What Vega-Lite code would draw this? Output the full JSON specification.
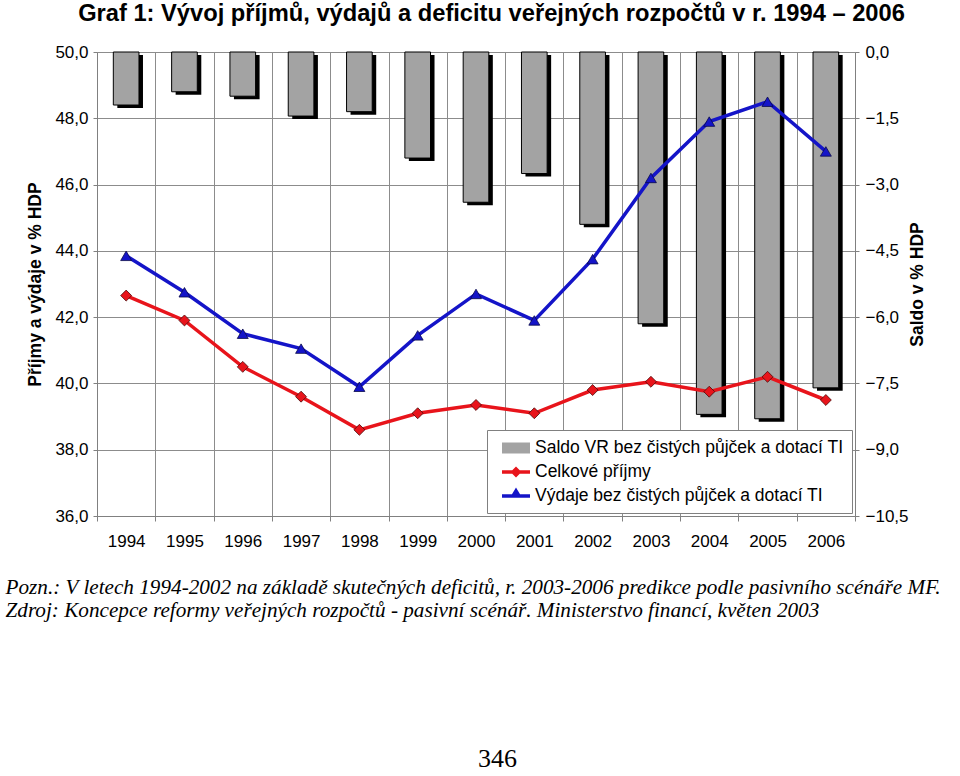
{
  "$schema": "https://vega.github.io/schema/vega-lite/v6.json",
  "autosize": "none",
  "width": 758,
  "height": 464,
  "padding": {"left": 97, "top": 52, "right": 105, "bottom": 260},
  "background": "white",
  "config": {
    "view": {"stroke": null},
    "font": "Liberation Sans",
    "axis": {"labelFont": "Liberation Sans", "labelFontSize": 17, "labelColor": "black", "titleFont": "Liberation Sans", "titleColor": "black", "domainColor": "#808080", "tickColor": "#808080", "gridColor": "#8c8c8c", "gridOpacity": 1},
    "legend": {"orient": "bottom-right", "offset": 3, "fillColor": "white", "strokeColor": "#808080", "padding": 8,
      "labelFont": "Liberation Sans", "labelFontSize": 17.5, "labelColor": "black", "labelLimit": 400, "labelOffset": 9,
      "symbolSize": 400, "symbolOffset": 11, "rowPadding": 5, "symbolStrokeWidth": 0, "symbolOpacity": 1}
  },
  "title": {"text": "346", "orient": "bottom", "anchor": "start", "dx": 473, "offset": 126, "font": "Liberation Serif", "fontSize": 26, "fontWeight": "normal", "color": "black"},
  "data": {"values": [
    {"rok": "1994", "rada": "Saldo VR bez čistých půjček a dotací TI", "hodnota": -1.2},
    {"rok": "1995", "rada": "Saldo VR bez čistých půjček a dotací TI", "hodnota": -0.9},
    {"rok": "1996", "rada": "Saldo VR bez čistých půjček a dotací TI", "hodnota": -1.0},
    {"rok": "1997", "rada": "Saldo VR bez čistých půjček a dotací TI", "hodnota": -1.45},
    {"rok": "1998", "rada": "Saldo VR bez čistých půjček a dotací TI", "hodnota": -1.35},
    {"rok": "1999", "rada": "Saldo VR bez čistých půjček a dotací TI", "hodnota": -2.4},
    {"rok": "2000", "rada": "Saldo VR bez čistých půjček a dotací TI", "hodnota": -3.4},
    {"rok": "2001", "rada": "Saldo VR bez čistých půjček a dotací TI", "hodnota": -2.75},
    {"rok": "2002", "rada": "Saldo VR bez čistých půjček a dotací TI", "hodnota": -3.9},
    {"rok": "2003", "rada": "Saldo VR bez čistých půjček a dotací TI", "hodnota": -6.15},
    {"rok": "2004", "rada": "Saldo VR bez čistých půjček a dotací TI", "hodnota": -8.2},
    {"rok": "2005", "rada": "Saldo VR bez čistých půjček a dotací TI", "hodnota": -8.3},
    {"rok": "2006", "rada": "Saldo VR bez čistých půjček a dotací TI", "hodnota": -7.6},
    {"rok": "1994", "rada": "Celkové příjmy", "hodnota": 42.65},
    {"rok": "1995", "rada": "Celkové příjmy", "hodnota": 41.9},
    {"rok": "1996", "rada": "Celkové příjmy", "hodnota": 40.5},
    {"rok": "1997", "rada": "Celkové příjmy", "hodnota": 39.6},
    {"rok": "1998", "rada": "Celkové příjmy", "hodnota": 38.6},
    {"rok": "1999", "rada": "Celkové příjmy", "hodnota": 39.1},
    {"rok": "2000", "rada": "Celkové příjmy", "hodnota": 39.35},
    {"rok": "2001", "rada": "Celkové příjmy", "hodnota": 39.1},
    {"rok": "2002", "rada": "Celkové příjmy", "hodnota": 39.8},
    {"rok": "2003", "rada": "Celkové příjmy", "hodnota": 40.05},
    {"rok": "2004", "rada": "Celkové příjmy", "hodnota": 39.75},
    {"rok": "2005", "rada": "Celkové příjmy", "hodnota": 40.2},
    {"rok": "2006", "rada": "Celkové příjmy", "hodnota": 39.5},
    {"rok": "1994", "rada": "Výdaje bez čistých půjček a dotací TI", "hodnota": 43.85},
    {"rok": "1995", "rada": "Výdaje bez čistých půjček a dotací TI", "hodnota": 42.75},
    {"rok": "1996", "rada": "Výdaje bez čistých půjček a dotací TI", "hodnota": 41.5},
    {"rok": "1997", "rada": "Výdaje bez čistých půjček a dotací TI", "hodnota": 41.05},
    {"rok": "1998", "rada": "Výdaje bez čistých půjček a dotací TI", "hodnota": 39.9},
    {"rok": "1999", "rada": "Výdaje bez čistých půjček a dotací TI", "hodnota": 41.45},
    {"rok": "2000", "rada": "Výdaje bez čistých půjček a dotací TI", "hodnota": 42.7},
    {"rok": "2001", "rada": "Výdaje bez čistých půjček a dotací TI", "hodnota": 41.9},
    {"rok": "2002", "rada": "Výdaje bez čistých půjček a dotací TI", "hodnota": 43.75},
    {"rok": "2003", "rada": "Výdaje bez čistých půjček a dotací TI", "hodnota": 46.2},
    {"rok": "2004", "rada": "Výdaje bez čistých půjček a dotací TI", "hodnota": 47.9},
    {"rok": "2005", "rada": "Výdaje bez čistých půjček a dotací TI", "hodnota": 48.5},
    {"rok": "2006", "rada": "Výdaje bez čistých půjček a dotací TI", "hodnota": 47.0}
  ]},
  "resolve": {"scale": {"y": "independent"}, "axis": {"x": "independent", "y": "independent"}},
  "layer": [
    {
      "transform": [{"filter": "datum.rada == 'Saldo VR bez čistých půjček a dotací TI'"}],
      "encoding": {
        "x": {"field": "rok", "type": "ordinal", "scale": {"paddingInner": 0, "paddingOuter": 0},
          "axis": {"orient": "bottom", "tickBand": "extent", "grid": true, "tickSize": 5, "labelPadding": 12, "labelAngle": 0,
            "title": ["Pozn.: V letech 1994-2002 na základě skutečných deficitů, r. 2003-2006 predikce podle pasivního scénáře MF.", "Zdroj: Koncepce reformy veřejných rozpočtů - pasivní scénář. Ministerstvo financí, květen 2003"],
            "titleFont": "Liberation Serif", "titleFontStyle": "italic", "titleFontWeight": "normal", "titleFontSize": 21.2, "titleLineHeight": 23,
            "titleAnchor": "start", "titleAlign": "left", "titleBaseline": "top", "titleX": -92, "titleY": 60}},
        "y": {"field": "hodnota", "type": "quantitative", "scale": {"domain": [-10.5, 0], "nice": false, "zero": false},
          "axis": {"orient": "right", "values": [0, -1.5, -3, -4.5, -6, -7.5, -9, -10.5], "grid": false, "tickSize": 4,
            "labelExpr": "replace(format(datum.value, '.1f'), '.', ',')", "labelPadding": 6,
            "title": "Saldo v % HDP", "titleFontSize": 17.5, "titleFontWeight": "bold", "titleAngle": 270, "titlePadding": 18}}
      },
      "layer": [
        {"mark": {"type": "bar", "width": {"band": 0.44}, "color": "black", "xOffset": 4, "yOffset": 3}},
        {"mark": {"type": "bar", "width": {"band": 0.44}, "stroke": "black", "strokeWidth": 1},
          "encoding": {"color": {"field": "rada", "type": "nominal",
            "scale": {"domain": ["Saldo VR bez čistých půjček a dotací TI", "Celkové příjmy", "Výdaje bez čistých půjček a dotací TI"], "range": ["#a3a3a3", "#e8141b", "#1414c8"]},
            "legend": {"title": null}}}}
      ]
    },
    {
      "transform": [{"filter": "datum.rada != 'Saldo VR bez čistých půjček a dotací TI'"}],
      "encoding": {
        "x": {"field": "rok", "type": "ordinal",
          "axis": {"orient": "top", "labels": false, "ticks": false, "domain": false, "grid": false,
            "title": "Graf 1: Vývoj příjmů, výdajů a deficitu veřejných rozpočtů v r. 1994 – 2006",
            "titleFont": "Liberation Sans", "titleFontSize": 23.7, "titleFontWeight": "bold",
            "titleAnchor": "start", "titleAlign": "center", "titleBaseline": "middle", "titleX": 394, "titleY": -39}},
        "y": {"field": "hodnota", "type": "quantitative", "scale": {"domain": [36, 50], "nice": false, "zero": false},
          "axis": {"orient": "left", "values": [36, 38, 40, 42, 44, 46, 48, 50], "grid": true, "tickSize": 4,
            "labelExpr": "replace(format(datum.value, '.1f'), '.', ',')", "labelPadding": 5,
            "title": "Příjmy a výdaje v % HDP", "titleFontSize": 17.5, "titleFontWeight": "bold", "titlePadding": 10}},
        "color": {"field": "rada", "type": "nominal", "legend": null}
      },
      "layer": [
        {"mark": {"type": "line", "strokeWidth": 3.5}},
        {"transform": [{"filter": "datum.rada == 'Celkové příjmy'"}],
          "mark": {"type": "point", "shape": "diamond", "filled": true, "opacity": 1, "stroke": "#4a0a0a", "strokeWidth": 0.8, "size": 120}},
        {"transform": [{"filter": "datum.rada == 'Výdaje bez čistých půjček a dotací TI'"}],
          "mark": {"type": "point", "shape": "triangle-up", "filled": true, "opacity": 1, "stroke": "#0a0a4a", "strokeWidth": 0.8, "size": 120}},
        {"mark": {"type": "point", "filled": true, "opacity": 0},
          "encoding": {
            "color": {"field": "rada", "type": "nominal", "legend": {"title": null}},
            "shape": {"field": "rada", "type": "nominal",
              "scale": {"domain": ["Saldo VR bez čistých půjček a dotací TI", "Celkové příjmy", "Výdaje bez čistých půjček a dotací TI"],
                "range": ["M-1.4,-0.55H1.4V0.55H-1.4Z", "M-1.4,-0.17H1.4V0.17H-1.4Z M0,-0.55L0.55,0L0,0.55L-0.55,0Z", "M-1.4,-0.17H1.4V0.17H-1.4Z M0,-0.85L0.6,0.15L-0.6,0.15Z"]},
              "legend": {"title": null}}}}
      ]
    }
  ]
}
